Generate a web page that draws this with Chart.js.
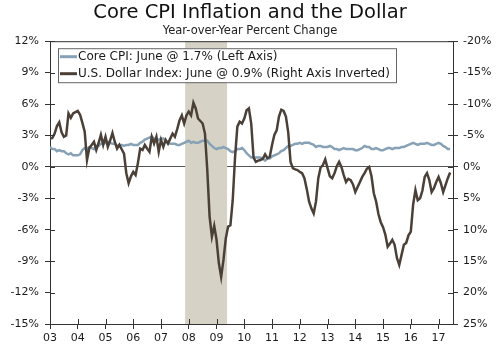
<!DOCTYPE html>
<html>
<head>
<meta charset="utf-8">
<script src="https://cdn.jsdelivr.net/npm/chart.js@4/dist/chart.umd.min.js"></script>
<style>
  html, body { margin: 0; padding: 0; background: #fff; }
  #wrap { width: 500px; height: 348px; }
</style>
</head>
<body>
<div id="wrap"><canvas id="c" width="500" height="348"></canvas></div>
<script>
// Monthly series, January 2003 through June 2017
const startYear = 2003;

// Core CPI, year-over-year % change (left axis)
const coreCpi = [
  1.9,1.7,1.7,1.5,1.6,1.5,1.5,1.3,1.2,1.3,1.1,1.1,
  1.1,1.2,1.6,1.8,1.7,1.9,1.8,1.7,2.0,2.0,2.2,2.2,
  2.3,2.4,2.3,2.2,2.2,2.0,2.1,2.1,2.0,2.1,2.1,2.2,
  2.1,2.1,2.1,2.3,2.4,2.6,2.7,2.8,2.9,2.7,2.6,2.6,
  2.7,2.7,2.5,2.3,2.2,2.2,2.2,2.1,2.1,2.2,2.3,2.4,
  2.5,2.3,2.4,2.3,2.3,2.4,2.5,2.5,2.5,2.2,2.0,1.8,
  1.7,1.8,1.8,1.9,1.8,1.7,1.5,1.4,1.5,1.7,1.7,1.8,
  1.6,1.3,1.1,0.9,0.9,0.9,0.9,0.9,0.8,0.6,0.8,0.8,
  1.0,1.1,1.2,1.3,1.5,1.6,1.8,2.0,2.0,2.1,2.2,2.2,
  2.3,2.2,2.3,2.3,2.3,2.2,2.1,1.9,2.0,2.0,1.9,1.9,
  1.9,2.0,1.9,1.7,1.7,1.6,1.7,1.8,1.7,1.7,1.7,1.7,
  1.6,1.6,1.7,1.8,2.0,1.9,1.9,1.7,1.7,1.8,1.7,1.6,
  1.6,1.7,1.8,1.8,1.7,1.8,1.8,1.8,1.9,1.9,2.0,2.1,
  2.2,2.3,2.2,2.1,2.2,2.2,2.2,2.3,2.2,2.1,2.1,2.2,
  2.3,2.2,2.0,1.9,1.7,1.7
];

// U.S. Dollar Index, year-over-year % change (right axis, inverted)
const dollarIndex = [
  -4.5,-4.6,-5.3,-6.5,-7.1,-5.5,-4.8,-5.0,-8.5,-7.8,-8.5,-8.7,
  -8.9,-8.3,-7.0,-5.6,-1.1,-3.0,-3.5,-4.0,-2.7,-3.8,-5.1,-3.5,
  -4.8,-3.2,-4.2,-5.4,-4.0,-2.9,-3.5,-2.8,-2.1,1.0,2.6,1.5,
  0.8,1.3,-0.6,-2.9,-2.7,-3.5,-2.9,-2.4,-4.8,-3.7,-4.8,-2.4,
  -4.3,-3.2,-4.3,-3.7,-4.5,-5.3,-4.8,-6.0,-7.4,-8.2,-6.9,-8.2,
  -8.8,-8.2,-10.2,-9.3,-7.7,-7.3,-6.9,-5.3,0.5,7.9,11.1,9.4,
  11.6,15.3,17.5,14.8,11.4,9.5,9.3,5.3,-1.5,-6.4,-7.2,-6.9,
  -7.7,-9.0,-9.3,-6.9,-1.5,-0.8,-1.0,-1.1,-1.3,-2.0,-1.4,-1.6,
  -3.5,-5.1,-5.8,-8.0,-9.1,-8.9,-8.0,-5.5,-0.8,0.2,0.4,0.5,
  0.8,1.0,1.8,3.5,5.5,6.6,7.4,5.5,1.8,0.1,-0.3,-1.2,
  0.2,1.5,1.8,1.0,-0.1,-0.8,0.0,1.3,2.4,1.9,2.1,2.8,
  4.0,3.2,2.4,1.6,1.0,0.3,0.0,1.5,4.2,5.5,7.5,8.8,
  9.6,10.8,12.7,12.2,11.6,12.4,14.5,15.6,14.0,12.4,12.1,10.9,
  10.3,6.0,3.7,5.3,5.0,3.8,1.6,1.0,2.1,4.0,3.4,2.4,
  1.6,2.6,4.0,2.9,1.8,0.9
];

// Year tick labels along the bottom
const yearLabels = ['03','04','05','06','07','08','09','10','11','12','13','14','15','16','17'];

// Recession period (decimal years)
const recession = [2007.87, 2009.38];

const seriesNames = [
  'Core CPI: June @ 1.7% (Left Axis)',
  'U.S. Dollar Index: June @ 0.9% (Right Axis Inverted)'
];

const FONT = "'DejaVu Sans', Verdana, sans-serif";
const AXIS = '#333333';
const CPI_COLOR = '#87a2b6';
const USD_COLOR = '#4a4037';
const SHADE = '#d6d2c6';

const toPoints = arr => arr.map((v, i) => ({ x: startYear + i / 12, y: v }));

// Recession shading behind the lines
const shadePlugin = {
  id: 'shade',
  beforeDatasetsDraw(chart) {
    const { ctx, chartArea: a, scales: { x } } = chart;
    const x0 = x.getPixelForValue(recession[0]);
    const x1 = x.getPixelForValue(recession[1]);
    ctx.save();
    ctx.fillStyle = SHADE;
    ctx.fillRect(x0, a.top, x1 - x0, a.bottom - a.top);
    ctx.restore();
  }
};

// Top frame line and tick marks that cross the axis lines
const framePlugin = {
  id: 'frame',
  afterDraw(chart) {
    const { ctx, chartArea: a, scales } = chart;
    ctx.save();
    ctx.strokeStyle = AXIS;
    ctx.lineWidth = 1;
    ctx.beginPath();
    ctx.moveTo(a.left, a.top + 0.5);
    ctx.lineTo(a.right, a.top + 0.5);
    const len = 5;
    scales.y.ticks.forEach(t => {
      const py = Math.round(scales.y.getPixelForValue(t.value)) + 0.5;
      ctx.moveTo(a.left, py); ctx.lineTo(a.left + len, py);
    });
    scales.y2.ticks.forEach(t => {
      const py = Math.round(scales.y2.getPixelForValue(t.value)) + 0.5;
      ctx.moveTo(a.right - len, py); ctx.lineTo(a.right, py);
    });
    scales.x.ticks.forEach(t => {
      const px = Math.round(scales.x.getPixelForValue(t.value)) + 0.5;
      ctx.moveTo(px, a.bottom); ctx.lineTo(px, a.bottom - len);
    });
    ctx.stroke();
    ctx.restore();
  }
};

// Boxed legend in the upper left of the plot
const boxLegendPlugin = {
  id: 'boxLegend',
  afterDraw(chart) {
    const { ctx, chartArea: a } = chart;
    const bx = a.left + 8, by = a.top + 7, bw = 338, bh = 34;
    ctx.save();
    ctx.fillStyle = '#ffffff';
    ctx.fillRect(bx, by, bw, bh);
    ctx.strokeStyle = '#666666';
    ctx.lineWidth = 1;
    ctx.strokeRect(bx + 0.5, by + 0.5, bw, bh);
    ctx.font = '12px ' + FONT;
    ctx.textBaseline = 'middle';
    chart.data.datasets.forEach((ds, i) => {
      const cy = by + 8.5 + i * 17;
      ctx.strokeStyle = ds.borderColor;
      ctx.lineWidth = 3;
      ctx.beginPath();
      ctx.moveTo(bx + 2, cy);
      ctx.lineTo(bx + 19, cy);
      ctx.stroke();
      ctx.fillStyle = '#1a1a1a';
      ctx.fillText(ds.label, bx + 20, cy + 0.5);
    });
    ctx.restore();
  }
};

new Chart(document.getElementById('c'), {
  type: 'line',
  data: {
    datasets: [
      {
        label: seriesNames[0],
        data: toPoints(coreCpi),
        yAxisID: 'y',
        borderColor: CPI_COLOR,
        borderWidth: 2.5,
        pointRadius: 0,
        tension: 0,
        order: 1
      },
      {
        label: seriesNames[1],
        data: toPoints(dollarIndex),
        yAxisID: 'y2',
        borderColor: USD_COLOR,
        borderWidth: 2.5,
        pointRadius: 0,
        tension: 0,
        order: 0
      }
    ]
  },
  options: {
    responsive: false,
    animation: false,
    events: [],
    layout: { padding: { left: 0, right: 0, top: 0, bottom: 0 } },
    plugins: {
      legend: { display: false },
      tooltip: { enabled: false },
      title: {
        display: true,
        text: 'Core CPI Inflation and the Dollar',
        color: '#111',
        font: { family: FONT, size: 19.5, weight: 'normal', lineHeight: 1.2 },
        padding: { top: 1, bottom: 0 }
      },
      subtitle: {
        display: true,
        text: 'Year-over-Year Percent Change',
        color: '#222',
        font: { family: FONT, size: 11.5, weight: 'normal', lineHeight: 1.2 },
        padding: { top: 0, bottom: 3 }
      }
    },
    scales: {
      x: {
        type: 'linear',
        min: startYear,
        max: 2017.52,
        afterBuildTicks: s => { s.ticks = yearLabels.map((_, i) => ({ value: startYear + i })); },
        afterFit: s => { s.height = 24; },
        grid: { drawOnChartArea: false, drawTicks: true, tickLength: 5, tickColor: AXIS },
        border: { display: true, color: AXIS, width: 1 },
        ticks: {
          color: '#1a1a1a',
          font: { family: FONT, size: 11 },
          padding: 3,
          maxRotation: 0,
          autoSkip: false,
          callback: v => yearLabels[Math.round(v) - startYear]
        }
      },
      y: {
        position: 'left',
        min: -15,
        max: 12,
        afterFit: s => { s.width = 50; },
        grid: {
          drawOnChartArea: true,
          drawTicks: true,
          tickLength: 5,
          tickColor: AXIS,
          color: c => (c.tick && c.tick.value === 0) ? '#555555' : 'rgba(0,0,0,0)'
        },
        border: { display: true, color: AXIS, width: 1 },
        ticks: {
          stepSize: 3,
          color: '#1a1a1a',
          font: { family: FONT, size: 11 },
          padding: 6,
          callback: v => v + '%'
        }
      },
      y2: {
        position: 'right',
        min: -20,
        max: 25,
        reverse: true,
        afterFit: s => { s.width = 47; },
        grid: { drawOnChartArea: false, drawTicks: true, tickLength: 5, tickColor: AXIS },
        border: { display: true, color: AXIS, width: 1 },
        ticks: {
          stepSize: 5,
          color: '#1a1a1a',
          font: { family: FONT, size: 11 },
          padding: 5,
          callback: v => v + '%'
        }
      }
    }
  },
  plugins: [shadePlugin, framePlugin, boxLegendPlugin]
});
</script>
</body>
</html>
